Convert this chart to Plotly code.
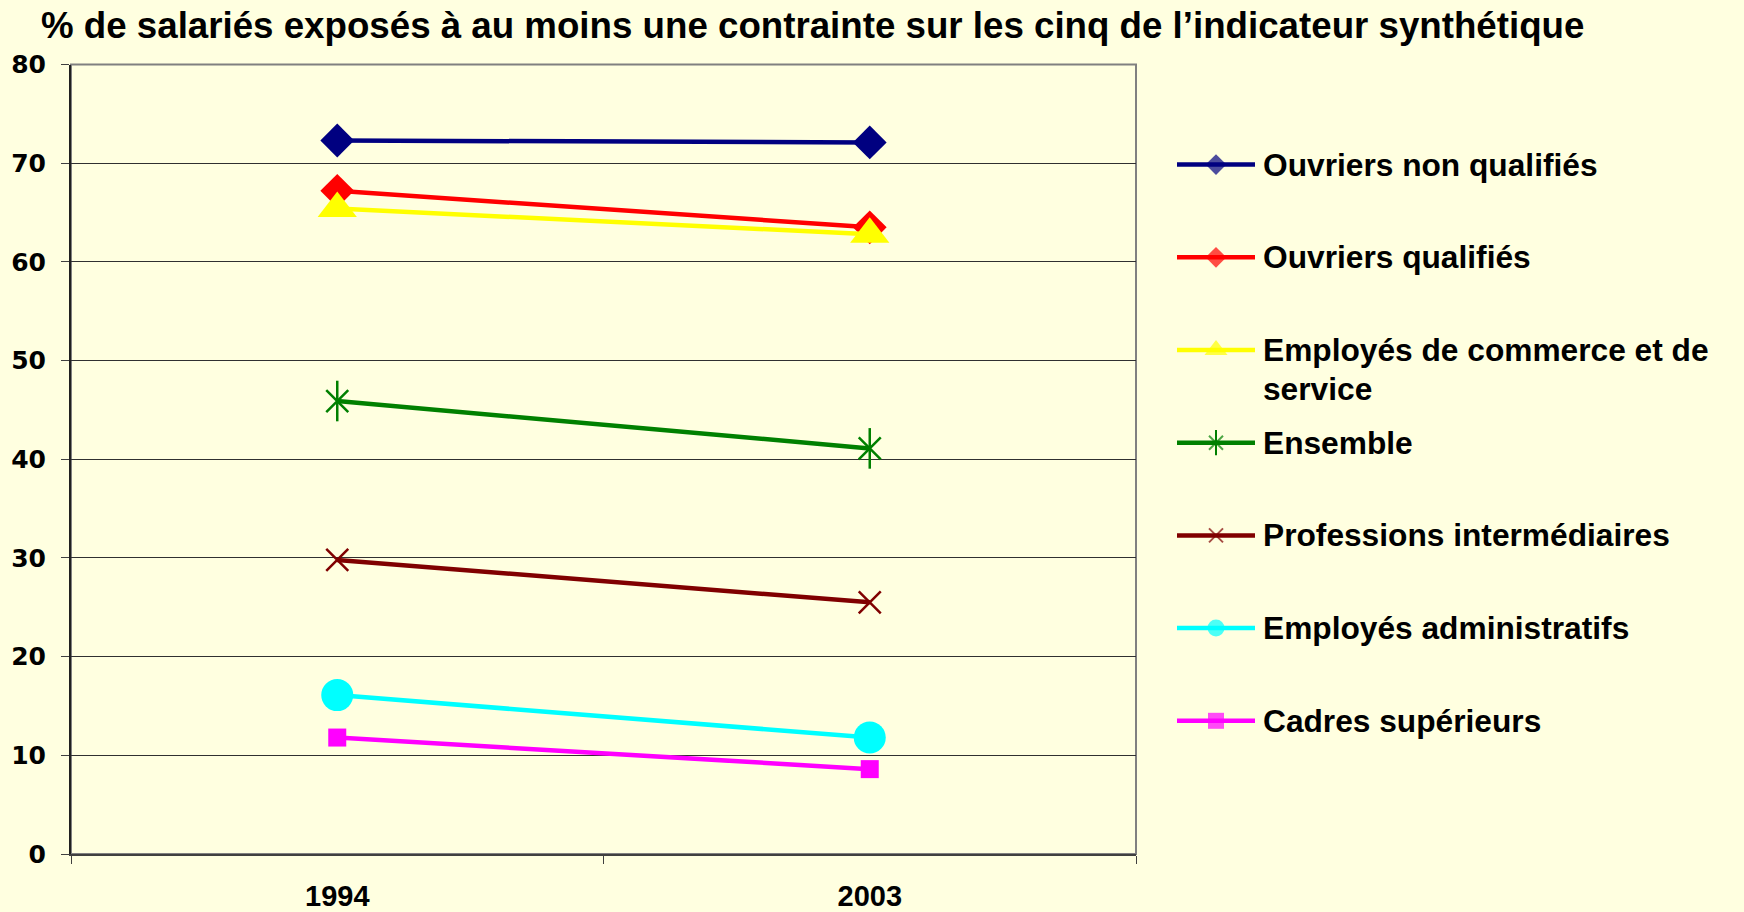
import plotly.graph_objects as go

# ---------------- data ----------------
years = ["1994", "2003"]
series_names = [
    "Ouvriers non qualifiés",
    "Ouvriers qualifiés",
    "Employés de commerce et de service",
    "Ensemble",
    "Professions intermédiaires",
    "Employés administratifs",
    "Cadres supérieurs",
]
ouvriers_non_qualifies = [72.3, 72.1]
ouvriers_qualifies = [67.2, 63.5]
employes_commerce = [65.4, 62.8]
ensemble = [45.9, 41.1]
professions_intermediaires = [29.8, 25.5]
employes_administratifs = [16.1, 11.8]
cadres_superieurs = [11.8, 8.6]
y_ticks = [0, 10, 20, 30, 40, 50, 60, 70, 80]

series_values = [
    ouvriers_non_qualifies, ouvriers_qualifies, employes_commerce, ensemble,
    professions_intermediaires, employes_administratifs, cadres_superieurs,
]

# ---------------- styles ----------------
colors = ["#000080", "#FF0000", "#FFFF00", "#008000", "#800000", "#00FFFF", "#FF00FF"]
symbols = ["diamond", "diamond", "triangle-up", "x-thin-open", "x-thin-open", "circle", "square"]
sizes = [26, 26, 34, 22, 22, 32, 18]
legend_sizes = [16, 16, 20, 14, 14, 17, 16]

W, H = 1744, 912
BG = "#FFFFE0"
px_l, px_r, px_t, px_b = 71, 1136, 64.5, 854

SANS = "Liberation Sans, Arial, sans-serif"

fig = go.Figure()

for i, (name, vals) in enumerate(zip(series_names, series_values)):
    is_open = "open" in symbols[i]
    fig.add_trace(go.Scatter(
        x=years, y=vals, name=name, mode="lines+markers",
        line=dict(color=colors[i], width=4.5),
        marker=dict(symbol=symbols[i], size=sizes[i], color=colors[i],
                    line=dict(color=colors[i], width=2.5 if is_open else 0)),
        showlegend=False, xaxis="x", yaxis="y",
    ))
    if i == 3:  # vertical bar of the star marker
        fig.add_trace(go.Scatter(
            x=years, y=vals, mode="markers",
            marker=dict(symbol="line-ns-open", size=29, color=colors[i],
                        line=dict(color=colors[i], width=2.5)),
            showlegend=False, hoverinfo="skip", xaxis="x", yaxis="y",
        ))

# custom legend (symbols on an auxiliary axis pair, one row per series)
for i, name in enumerate(series_names):
    is_open = "open" in symbols[i]
    fig.add_trace(go.Scatter(
        x=[0, 0.5, 1], y=[i, i, i], mode="lines+markers",
        line=dict(color=colors[i], width=4.5),
        marker=dict(symbol=symbols[i], size=[0, legend_sizes[i], 0], color=colors[i],
                    line=dict(color=colors[i], width=2 if is_open else 0)),
        showlegend=False, hoverinfo="skip", xaxis="x2", yaxis="y2",
    ))
    if i == 3:
        fig.add_trace(go.Scatter(
            x=[0.5], y=[i], mode="markers",
            marker=dict(symbol="line-ns-open", size=18, color=colors[i],
                        line=dict(color=colors[i], width=2)),
            showlegend=False, hoverinfo="skip", xaxis="x2", yaxis="y2",
        ))

annotations = []
for i, name in enumerate(series_names):
    if name == "Employés de commerce et de service":
        lines = ["Employés de commerce et de", "service"]
    else:
        lines = [name]
    for k, txt in enumerate(lines):
        annotations.append(dict(
            text=txt, xref="paper", x=1261 / W, yref="y2", y=i,
            xanchor="left", yanchor="middle", yshift=-39 * k, showarrow=False,
            font=dict(family=SANS, size=31.7, color="black", weight="bold"),
        ))

annotations.append(dict(
    text="% de salariés exposés à au moins une contrainte sur les cinq de l’indicateur synthétique",
    xref="paper", yref="paper", x=39 / W, y=1 - 25.5 / H,
    xanchor="left", yanchor="middle", showarrow=False,
    font=dict(family=SANS, size=36.7, color="black", weight="bold"),
))

row0, row_gap = 164.6, 92.7
leg_top = row0 - row_gap / 2
leg_bot = row0 + 6 * row_gap + row_gap / 2

fig.update_layout(
    width=W, height=H,
    paper_bgcolor=BG, plot_bgcolor=BG,
    margin=dict(l=0, r=0, t=0, b=0, autoexpand=False),
    showlegend=False,
    annotations=annotations,
    xaxis=dict(
        domain=[px_l / W, px_r / W], type="category", range=[-0.5, 1.5],
        categoryorder="array", categoryarray=years,
        showgrid=False, zeroline=False,
        showline=True, linecolor="#404040", linewidth=2,
        ticks="outside", tickson="boundaries", ticklen=8, tickcolor="#404040", tickwidth=1,
        tickfont=dict(family=SANS, size=29, color="black", weight="bold"),
        ticklabelstandoff=15, fixedrange=True,
    ),
    yaxis=dict(
        domain=[(H - px_b) / H, (H - px_t) / H], range=[0, 80],
        tickvals=y_ticks, ticktext=[str(v) for v in y_ticks],
        showgrid=True, gridcolor="#303030", gridwidth=1, zeroline=False,
        showline=True, linecolor="#202020", linewidth=2,
        ticks="outside", ticklen=8, tickcolor="#404040", tickwidth=1,
        tickfont=dict(family="DejaVu Sans, sans-serif", size=25, color="black", weight="bold"),
        ticklabelstandoff=10, fixedrange=True,
    ),
    xaxis2=dict(domain=[1177 / W, 1255 / W], range=[0, 1], visible=False,
                anchor="y2", fixedrange=True),
    yaxis2=dict(domain=[(H - leg_bot) / H, (H - leg_top) / H], range=[6.5, -0.5],
                visible=False, anchor="x2", fixedrange=True),
    shapes=[dict(type="rect", xref="x domain", yref="y domain", x0=0, x1=1, y0=0, y1=1,
                 line=dict(color="#808080", width=2), layer="below")],
)

fig.write_html(
    "out.html",
    config={"displayModeBar": False},
    post_script="document.body.style.margin='0';document.body.style.background='" + BG + "';"
                "document.documentElement.style.overflow='hidden';",
)
